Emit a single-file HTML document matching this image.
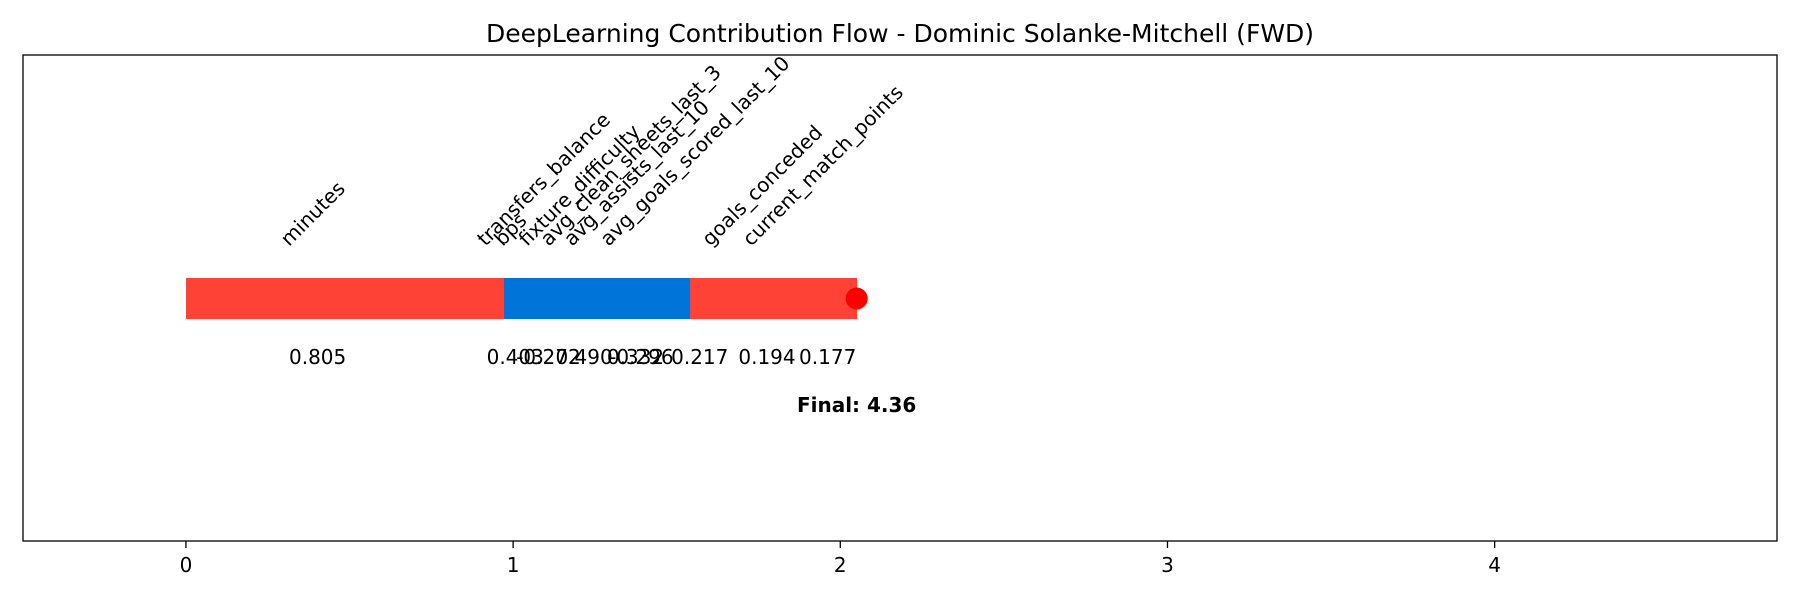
<!DOCTYPE html>
<html><head><meta charset="utf-8">
<style>
html,body{margin:0;padding:0;background:#fff;}
svg text{font-family:"DejaVu Sans","Liberation Sans",sans-serif;fill:#000;}
</style></head>
<body>
<svg id="chart" width="1800" height="600" viewBox="0 0 1800 600" xmlns="http://www.w3.org/2000/svg">
<rect x="0" y="0" width="1800" height="600" fill="#fff"/>
<text x="900" y="42" font-size="25" text-anchor="middle">DeepLearning Contribution Flow - Dominic Solanke-Mitchell (FWD)</text>
<g id="marks"></g>
<rect x="23" y="55" width="1754" height="486" fill="none" stroke="#000" stroke-width="1.3"/>
<g id="axis"></g>
</svg>
<script>
const features = ["minutes","bps","avg_clean_sheets_last_3","avg_assists_last_10","transfers_balance","fixture_difficulty","avg_goals_scored_last_10","goals_conceded","current_match_points"];
const values = [0.805, 0.403, 0.332, -0.296, -0.272, 0.490, 0.217, 0.194, 0.177];
const xTicks = [0, 1, 2, 3, 4];
const finalScore = 4.36;

const marks = document.getElementById('marks');
const axis = document.getElementById('axis');
const NS = 'http://www.w3.org/2000/svg';
const X0 = 23, X1 = 1777, DMIN = -0.498, DMAX = 4.863;
function xs(v){ return X0 + (v - DMIN) / (DMAX - DMIN) * (X1 - X0); }
const barTop = 278, barH = 41, labelY = 247, valueY = 364;
function mk(tag, attrs){ const e = document.createElementNS(NS, tag); for (const k in attrs) e.setAttribute(k, attrs[k]); return e; }

const segs = [];
let cum = 0;
for (let i = 0; i < values.length; i++) {
  const s = cum, e = cum + values[i];
  segs.push({s, e, v: values[i], name: features[i]});
  cum = e;
}
const order = segs.map((d,i)=>i).filter(i=>segs[i].v>=0).concat(segs.map((d,i)=>i).filter(i=>segs[i].v<0));
order.forEach(i => {
  const d = segs[i];
  const a = Math.min(d.s, d.e), b = Math.max(d.s, d.e);
  const r = mk('rect', {x: Math.round(xs(a)), y: barTop, width: Math.round(xs(b)) - Math.round(xs(a)), height: barH, fill: d.v >= 0 ? '#ff4136' : '#0074d9', 'shape-rendering': 'crispEdges'});
  
  
  marks.appendChild(r);
});
segs.forEach(d => {
  const cx = xs((d.s + d.e) / 2);
  const t = mk('text', {'font-size': 20});
  t.textContent = d.name;
  
  
  marks.appendChild(t);
  const L = t.getComputedTextLength();
  const x0 = cx - L * 0.3536;
  t.setAttribute('x', x0); t.setAttribute('y', labelY);
  t.setAttribute('transform', 'rotate(-45 ' + x0 + ' ' + labelY + ')');
  const vt = mk('text', {x: cx, y: valueY, 'font-size': 20, 'text-anchor': 'middle'});
  vt.textContent = d.v.toFixed(3);
  
  
  marks.appendChild(vt);
});
const dot = mk('circle', {cx: xs(cum), cy: barTop + barH / 2, r: 11, fill: '#ff0000'});


marks.appendChild(dot);
const ft = mk('text', {x: xs(cum), y: 412, 'font-size': 20, 'font-weight': 'bold', 'text-anchor': 'middle'});
ft.textContent = 'Final: ' + finalScore.toFixed(2);


marks.appendChild(ft);

xTicks.forEach(v => {
  const x = xs(v);
  const ln = mk('line', {x1: x, x2: x, y1: 541, y2: 548, stroke: '#000', 'stroke-width': 1.3});
  
  
  axis.appendChild(ln);
  const tl = mk('text', {x: x, y: 572, 'font-size': 20, 'text-anchor': 'middle'});
  tl.textContent = String(v);
  
  
  axis.appendChild(tl);
});
</script>
</body></html>
